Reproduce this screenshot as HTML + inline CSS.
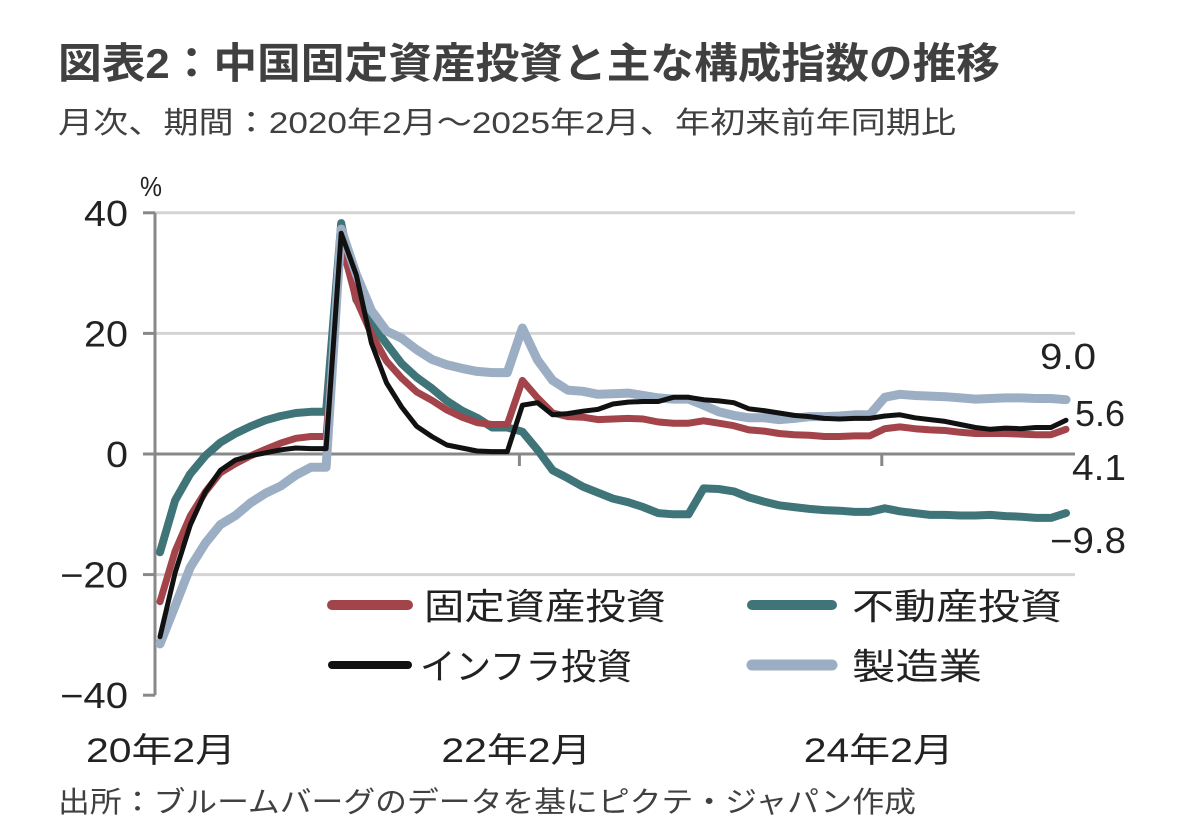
<!DOCTYPE html>
<html><head><meta charset="utf-8"><style>
html,body{margin:0;padding:0;background:#fff;}
svg{display:block;}
text{font-family:"Liberation Sans","Noto Sans CJK JP",sans-serif;}
</style></head><body>
<svg id="chart" width="1182" height="833" viewBox="0 0 1182 833" xmlns="http://www.w3.org/2000/svg">
<text x="58" y="78" font-size="42" font-weight="bold" fill="#404040" textLength="942" lengthAdjust="spacingAndGlyphs">図表2：中国固定資産投資と主な構成指数の推移</text>
<text x="58" y="133" font-size="30" fill="#404040" textLength="898" lengthAdjust="spacingAndGlyphs">月次、期間：2020年2月～2025年2月、年初来前年同期比</text>
<text x="140" y="196" font-size="28" fill="#222" textLength="22" lengthAdjust="spacingAndGlyphs">%</text>
<g id="grid"></g>
<g id="axes"></g>
<g id="series"></g>
<g id="labels"></g>
<g>
<line x1="332" y1="605" x2="408" y2="605" stroke="#a2444a" stroke-width="10" stroke-linecap="round"/>
<text x="424" y="619" font-size="36" fill="#222" textLength="242" lengthAdjust="spacingAndGlyphs">固定資産投資</text>
<line x1="752" y1="605" x2="832" y2="605" stroke="#3f7478" stroke-width="10" stroke-linecap="round"/>
<text x="852" y="619" font-size="36" fill="#222" textLength="210" lengthAdjust="spacingAndGlyphs">不動産投資</text>
<line x1="332" y1="665" x2="408" y2="665" stroke="#111" stroke-width="8" stroke-linecap="round"/>
<text x="420" y="679" font-size="36" fill="#222" textLength="212" lengthAdjust="spacingAndGlyphs">インフラ投資</text>
<line x1="752" y1="665" x2="832" y2="665" stroke="#9caec4" stroke-width="11" stroke-linecap="round"/>
<text x="852" y="679" font-size="36" fill="#222" textLength="130" lengthAdjust="spacingAndGlyphs">製造業</text>
</g>
<text x="58" y="812" font-size="29" fill="#404040" textLength="858" lengthAdjust="spacingAndGlyphs">出所：ブルームバーグのデータを基にピクテ・ジャパン作成</text>
</svg>
<script>
const yTicks=[40,20,0,-20,-40];
const xTickIdx=[0,24,48];
const xTickLabels=["20年2月","22年2月","24年2月"];
const fai=[-24.5,-16.1,-10.3,-6.3,-3.1,-1.6,-0.3,0.8,1.8,2.6,2.9,2.9,35.0,25.6,19.9,15.4,12.6,10.3,8.9,7.3,6.1,5.2,4.9,4.9,12.2,9.3,6.8,6.2,6.1,5.7,5.8,5.9,5.8,5.3,5.1,5.1,5.5,5.1,4.7,4.0,3.8,3.4,3.2,3.1,2.9,2.9,3.0,3.0,4.2,4.5,4.2,4.0,3.9,3.6,3.4,3.4,3.4,3.3,3.2,3.2,4.1];
const property=[-16.3,-7.7,-3.3,-0.3,1.9,3.4,4.6,5.6,6.3,6.8,7.0,7.0,38.3,25.6,21.6,18.3,15.0,12.7,10.9,8.8,7.2,6.0,4.4,4.4,3.7,0.7,-2.7,-4.0,-5.4,-6.4,-7.4,-8.0,-8.8,-9.8,-10.0,-10.0,-5.7,-5.8,-6.2,-7.2,-7.9,-8.5,-8.8,-9.1,-9.3,-9.4,-9.6,-9.6,-9.0,-9.5,-9.8,-10.1,-10.1,-10.2,-10.2,-10.1,-10.3,-10.4,-10.6,-10.6,-9.8];
const infra=[-30.3,-19.7,-11.8,-6.3,-2.7,-1.0,-0.3,0.2,0.7,1.0,0.9,0.9,36.6,29.7,18.4,11.8,7.8,4.6,2.9,1.5,1.0,0.5,0.4,0.4,8.1,8.5,6.5,6.7,7.1,7.4,8.3,8.6,8.7,8.7,9.4,9.4,9.0,8.8,8.5,7.5,7.2,6.8,6.4,6.2,5.9,5.8,5.9,5.9,6.3,6.5,6.0,5.7,5.4,4.9,4.4,4.1,4.3,4.2,4.4,4.4,5.6];
const manufacturing=[-31.5,-25.2,-18.8,-14.8,-11.7,-10.2,-8.1,-6.5,-5.3,-3.5,-2.2,-2.2,37.3,29.8,23.8,20.4,19.2,17.3,15.7,14.8,14.2,13.7,13.5,13.5,20.9,15.6,12.2,10.6,10.4,9.9,10.0,10.1,9.7,9.3,9.1,9.1,8.1,7.0,6.4,6.0,6.0,5.7,5.9,6.2,6.2,6.3,6.5,6.5,9.4,9.9,9.7,9.6,9.5,9.3,9.1,9.2,9.3,9.3,9.2,9.2,9.0];
const endLabels=["9.0","5.6","4.1","−9.8"];

const NS="http://www.w3.org/2000/svg";
const X0=160,DX=15.1,Y0=454,DY=6.03;
const xs=i=>X0+DX*i;
const ys=v=>Y0-DY*v;
function mk(tag,attrs,parent){const e=document.createElementNS(NS,tag);for(const k in attrs)e.setAttribute(k,attrs[k]);parent.appendChild(e);return e;}
const grid=document.getElementById('grid'),axes=document.getElementById('axes'),ser=document.getElementById('series'),lab=document.getElementById('labels');
yTicks.forEach(t=>{
  if(t!==0&&t!==-40){const g=mk('line',{x1:155,x2:1075,y1:ys(t),y2:ys(t),stroke:'#d4d4d4','stroke-width':3},grid);
  
  }
  const tk=mk('line',{x1:143,x2:155,y1:ys(t),y2:ys(t),stroke:'#888','stroke-width':3},axes);
  
  
  const s=t<0?'−'+Math.abs(t):String(t);
  const w=t<0?68:(t===0?22:44);
  const tx=mk('text',{x:128,y:ys(t)+13,'font-size':36,fill:'#222','text-anchor':'end',textLength:w,lengthAdjust:'spacingAndGlyphs'},axes);
  tx.textContent=s;
  
  
});
const ya=mk('line',{x1:155,x2:155,y1:ys(40),y2:ys(-40),stroke:'#888','stroke-width':3},axes);


const xa=mk('line',{x1:155,x2:1075,y1:ys(0),y2:ys(0),stroke:'#888','stroke-width':3},axes);


xTickIdx.forEach((ix,k)=>{
  const px=ix===0?155:xs(ix)-3;
  const tk=mk('line',{x1:px,x2:px,y1:ys(0),y2:ys(0)+12,stroke:'#888','stroke-width':3},axes);
  
  
  const tx=mk('text',{x:ix===0?86:px-78,y:762,'font-size':34,fill:'#222',textLength:150,lengthAdjust:'spacingAndGlyphs'},axes);
  tx.textContent=xTickLabels[k];
  
  
});
function line(data,color,w,name){
  const d=data.map((v,i)=>(i?'L':'M')+xs(i).toFixed(1)+' '+ys(v).toFixed(1)).join(' ');
  const p=mk('path',{d:d,fill:'none',stroke:color,'stroke-width':w,'stroke-linejoin':'round','stroke-linecap':'round'},ser);
  
  
}
line(property,'#3f7478',8,'line-property-investment');
line(fai,'#a2444a',7,'line-fixed-asset-investment');
line(manufacturing,'#9caec4',9,'line-manufacturing');
line(infra,'#111',5,'line-infrastructure-investment');
const lp=[[1040,369,56],[1075,426,50],[1072,480,54],[1050,553,76]];
endLabels.forEach((s,k)=>{
  const t=mk('text',{x:lp[k][0],y:lp[k][1],'font-size':36,fill:'#222',textLength:lp[k][2],lengthAdjust:'spacingAndGlyphs'},lab);
  t.textContent=s;
  
  
});
</script>
</body></html>
